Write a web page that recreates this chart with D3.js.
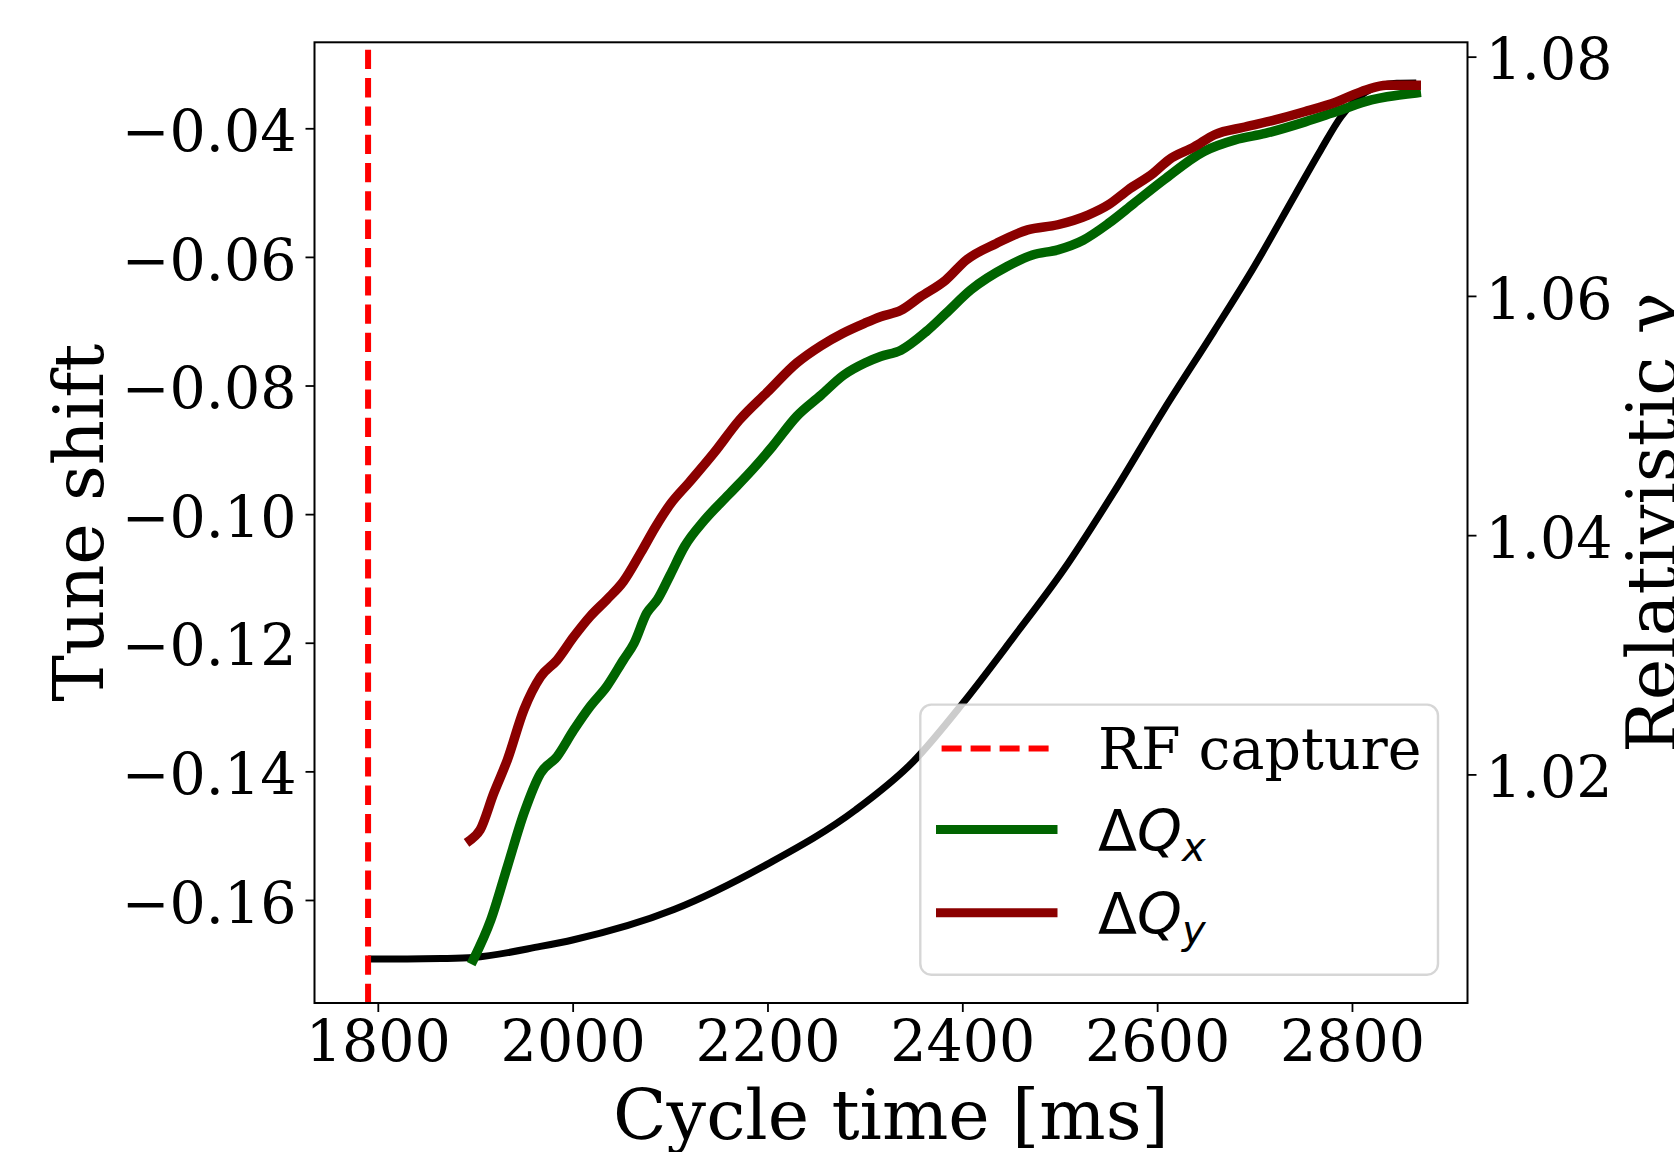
<!DOCTYPE html>
<html>
<head>
<meta charset="utf-8">
<script src="https://cdn.jsdelivr.net/npm/d3@7"></script>
<style>
  body { margin: 0; background: #fff; }
</style>
</head>
<body>
<div id="maindiv"></div>
<script>
// ---- data ----
var rfCapture = 1790;

var gammaTime = [1790, 1830, 1865, 1898, 1967, 2001, 2104, 2200, 2290, 2350, 2401, 2453, 2504, 2555, 2607, 2658, 2700, 2742, 2768, 2789, 2810, 2830, 2846, 2866];
var gammaVals = [1.00456, 1.00456, 1.00460, 1.00470, 1.00562, 1.00618, 1.00870, 1.01250, 1.01700, 1.02110, 1.02600, 1.03152, 1.03710, 1.04351, 1.05050, 1.05700, 1.06250, 1.06850, 1.07220, 1.07500, 1.07680, 1.07760, 1.07778, 1.07780];

var qxTime = [1898, 1916, 1933, 1950, 1967, 1984, 2001, 2018, 2035, 2052, 2063, 2076, 2087, 2100, 2115, 2135, 2160, 2185, 2205, 2230, 2255, 2278, 2300, 2316, 2337, 2363, 2383, 2409, 2446, 2472, 2498, 2524, 2550, 2576, 2607, 2648, 2680, 2711, 2752, 2784, 2820, 2836, 2866];
var qxVals = [-0.1693, -0.1631, -0.1548, -0.1465, -0.1403, -0.1377, -0.1336, -0.1299, -0.1268, -0.1227, -0.1201, -0.1154, -0.1133, -0.1095, -0.1050, -0.1010, -0.0970, -0.0930, -0.0895, -0.0848, -0.0815, -0.0784, -0.0765, -0.0755, -0.0745, -0.0716, -0.0688, -0.0651, -0.0615, -0.0597, -0.0589, -0.0574, -0.0548, -0.0517, -0.0480, -0.0436, -0.0418, -0.0408, -0.0390, -0.0374, -0.0356, -0.0351, -0.0345];

var qyTime = [1895, 1905, 1919, 1933, 1950, 1967, 1984, 2001, 2018, 2035, 2052, 2070, 2085, 2100, 2120, 2145, 2171, 2200, 2230, 2255, 2277, 2300, 2316, 2337, 2357, 2383, 2404, 2435, 2467, 2498, 2529, 2550, 2570, 2596, 2612, 2638, 2659, 2690, 2721, 2752, 2784, 2815, 2835, 2866];
var qyVals = [-0.1507, -0.1491, -0.1434, -0.1382, -0.1304, -0.1253, -0.1227, -0.1191, -0.1159, -0.1133, -0.1105, -0.1060, -0.1020, -0.0985, -0.0950, -0.0905, -0.0854, -0.0810, -0.0765, -0.0738, -0.0719, -0.0703, -0.0693, -0.0683, -0.0662, -0.0636, -0.0605, -0.0579, -0.0558, -0.0550, -0.0535, -0.0519, -0.0496, -0.0470, -0.0449, -0.0429, -0.0410, -0.0398, -0.0387, -0.0374, -0.0359, -0.0340, -0.0333, -0.0333];

var xTicks = [1800, 2000, 2200, 2400, 2600, 2800];
var leftTicks = [-0.16, -0.14, -0.12, -0.10, -0.08, -0.06, -0.04];
var rightTicks = [1.02, 1.04, 1.06, 1.08];

var legendItems = [
    { label: "RF capture", color: "#ff0000", dashed: true, width: 6 },
    { label: "x", color: "#006400", dashed: false, width: 9 },
    { label: "y", color: "#8b0000", dashed: false, width: 9 }
];

// ---- layout ----
var width = 1674;
var height = 1152;
var margin = { top: 42.3, right: 206.5, bottom: 149, left: 314.5 };
var serif = "DejaVu Serif";

var svg = d3.select("#maindiv")
    .append("svg")
    .attr("width", width)
    .attr("height", height);

var x = d3.scaleLinear()
    .domain([1735.0, 2918.6])
    .range([margin.left, width - margin.right]);

var yL = d3.scaleLinear()
    .domain([-0.17602, -0.02663])
    .range([height - margin.bottom, margin.top]);

var yR = d3.scaleLinear()
    .domain([1.00089, 1.0812])
    .range([height - margin.bottom, margin.top]);

// black gamma line (right axis)
var gammaLine = d3.line()
    .x(function (d, i) { return x(gammaTime[i]); })
    .y(function (d) { return yR(d); })
    .curve(d3.curveMonotoneX);

svg.append("path")
    .attr("d", gammaLine(gammaVals))
    .attr("fill", "none")
    .attr("stroke", "#000")
    .attr("stroke-width", 7)
    .attr("stroke-linejoin", "round");

// RF capture (drawn bottom to top so the dash starts at the bottom)
svg.append("line")
    .attr("x1", x(rfCapture)).attr("x2", x(rfCapture))
    .attr("y1", height - margin.bottom).attr("y2", margin.top)
    .attr("stroke", "#ff0000")
    .attr("stroke-width", 6)
    .attr("stroke-dasharray", "19.3,9");

function tuneLine(times) {
    return d3.line()
        .x(function (d, i) { return x(times[i]); })
        .y(function (d) { return yL(d); })
        .curve(d3.curveMonotoneX);
}

svg.append("path")
    .attr("d", tuneLine(qxTime)(qxVals))
    .attr("fill", "none")
    .attr("stroke", "#006400")
    .attr("stroke-width", 9.5)
    .attr("stroke-linejoin", "round")
    .attr("stroke-linecap", "square");

svg.append("path")
    .attr("d", tuneLine(qyTime)(qyVals))
    .attr("fill", "none")
    .attr("stroke", "#8b0000")
    .attr("stroke-width", 9.5)
    .attr("stroke-linejoin", "round")
    .attr("stroke-linecap", "square");

// ---- axes ----
var fmt2 = d3.format(".2f");

function styleAxis(g) {
    g.select(".domain").remove();
    g.selectAll(".tick line").attr("stroke", "#000").attr("stroke-width", 1.8);
    g.selectAll(".tick text")
        .attr("fill", "#000")
        .style("font-family", serif)
        .style("font-size", "57px");
}

svg.append("g")
    .attr("transform", "translate(0," + (height - margin.bottom) + ")")
    .call(d3.axisBottom(x).tickValues(xTicks).tickSize(9).tickPadding(9).tickFormat(d3.format("d")))
    .call(styleAxis);

svg.append("g")
    .attr("transform", "translate(" + margin.left + ",0)")
    .call(d3.axisLeft(yL).tickValues(leftTicks).tickSize(9).tickPadding(9).tickFormat(fmt2))
    .call(styleAxis)
    .selectAll(".tick text").attr("dy", "0.39em");

svg.append("g")
    .attr("transform", "translate(" + (width - margin.right) + ",0)")
    .call(d3.axisRight(yR).tickValues(rightTicks).tickSize(9).tickPadding(9).tickFormat(fmt2))
    .call(styleAxis)
    .selectAll(".tick text").attr("dy", "0.39em");

// frame
svg.append("rect")
    .attr("x", margin.left)
    .attr("y", margin.top)
    .attr("width", width - margin.left - margin.right)
    .attr("height", height - margin.top - margin.bottom)
    .attr("fill", "none")
    .attr("stroke", "#000")
    .attr("stroke-width", 2);

// axis labels (the reference crops them at the figure edge too)
svg.append("text")
    .attr("x", (margin.left + width - margin.right) / 2)
    .attr("y", 1138.6)
    .attr("text-anchor", "middle")
    .style("font-family", serif)
    .style("font-size", "70px")
    .text("Cycle time [ms]");

svg.append("text")
    .attr("transform", "translate(103," + ((margin.top + height - margin.bottom) / 2) + ") rotate(-90)")
    .attr("text-anchor", "middle")
    .style("font-family", serif)
    .style("font-size", "70px")
    .text("Tune shift");

svg.append("text")
    .attr("transform", "translate(1676," + ((margin.top + height - margin.bottom) / 2) + ") rotate(-90)")
    .attr("text-anchor", "middle")
    .style("font-family", serif)
    .style("font-size", "70px")
    .text("Relativistic γ");

// ---- legend ----
var legend = svg.append("g");

legend.append("rect")
    .attr("x", 920.3)
    .attr("y", 704.6)
    .attr("width", 1438 - 920.3)
    .attr("height", 974.7 - 704.6)
    .attr("rx", 11)
    .attr("fill", "#fff")
    .attr("fill-opacity", 0.8)
    .attr("stroke", "#cccccc")
    .attr("stroke-opacity", 0.8)
    .attr("stroke-width", 2.4);

var rowY = [748.4, 829.5, 912.8];

legendItems.forEach(function (d, i) {
    var ly = rowY[i];
    var line = legend.append("line")
        .attr("x1", 941.6).attr("x2", 1052)
        .attr("y1", ly).attr("y2", ly)
        .attr("stroke", d.color)
        .attr("stroke-width", d.width);
    if (d.dashed) {
        line.attr("stroke-dasharray", "20,9");
    } else {
        line.attr("stroke-linecap", "square").attr("x2", 1053).attr("x1", 940.5);
    }

    var t = legend.append("text")
        .attr("x", 1098)
        .attr("y", ly + 21)
        .attr("fill", "#000");
    if (d.dashed) {
        t.style("font-family", serif).style("font-size", "57px").text(d.label);
    } else {
        t.style("font-family", "DejaVu Sans").style("font-size", "57px");
        t.append("tspan").text("Δ");
        t.append("tspan").style("font-style", "italic").text("Q");
        t.append("tspan").style("font-style", "italic").style("font-size", "40px").attr("dy", 10).text(d.label);
    }
});
</script>
</body>
</html>
